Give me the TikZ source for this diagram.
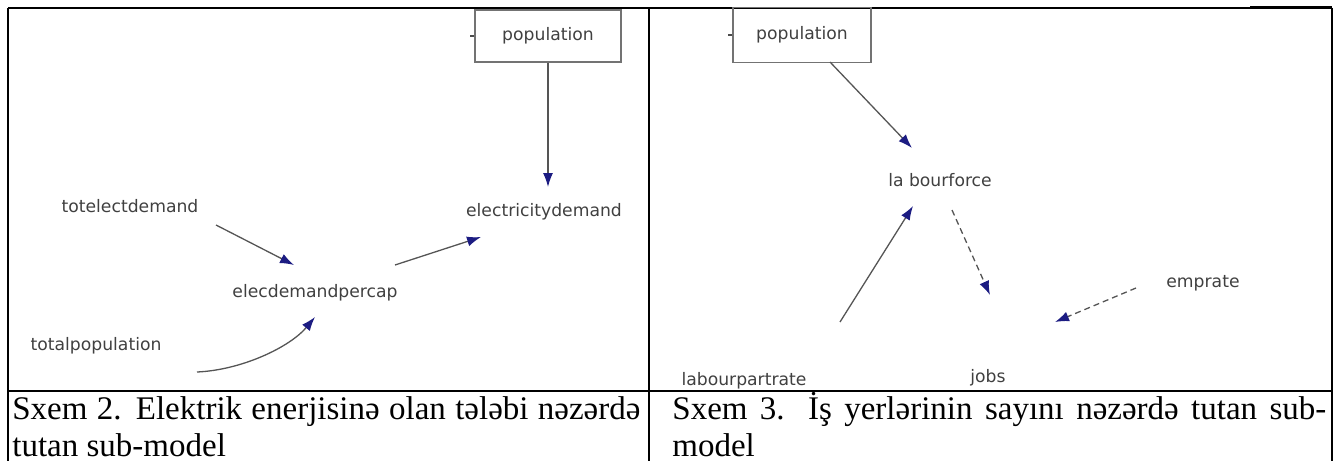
\documentclass[tikz,border=0pt]{standalone}
\usepackage{fontspec}
\setmainfont{Liberation Serif}
\newfontfamily\diagfont{DejaVu Sans}
\usetikzlibrary{arrows.meta, positioning, calc}
\definecolor{tipblue}{RGB}{28,28,130}
\definecolor{linkgray}{RGB}{85,85,85}

\begin{document}
\begin{tikzpicture}[x=0.5pt, y=-0.5pt,
    var/.style={font=\diagfont\fontsize{8.6}{10}\selectfont, text=black!75, inner sep=2pt},
    stock/.style={var, draw=black!55, line width=0.6pt},
    link/.style={draw=linkgray, line width=0.65pt,
                 -{Latex[length=7pt, width=5pt, color=tipblue]}},
    caption/.style={font=\fontsize{16.5}{18.5}\selectfont, align=justify,
                    inner sep=0pt, anchor=north west},
    rule/.style={line width=1pt}]
  \useasboundingbox (0,0) rectangle (1334,461);

  % Table frame
  \draw[rule] (8,7.5) -- (1250,7.5);
  \draw[line width=1.6pt] (1250,7.5) -- (1332,7.5);
  \draw[rule] (8,7.5) -- (8,461);
  \draw[rule] (649,7.5) -- (649,461);
  \draw[rule] (1332,7.5) -- (1332,461);
  \draw[rule] (8,391) -- (1332,391);

  % Sxem 2: electricity demand
  \node[stock, minimum width=73pt, minimum height=26pt] (popL) at (548,36) {population};
  \draw[black!70, line width=0.8pt] (popL.west) -- ++(-4,0);
  \node[var] (elecdem) at (544,212) {electricitydemand};
  \node[var] (totelect) at (130,206) {totelectdemand};
  \node[var] (percap) at (315,293) {elecdemandpercap};
  \node[var] (totpop) at (96,346) {totalpopulation};

  \draw[link] (popL.south) -- ([shift={(4,-25)}]elecdem.center);
  \draw[link] ([shift={(86,19)}]totelect.center) -- ([shift={(-21,-28)}]percap.center);
  \draw[link] ([shift={(80,-28)}]percap.center) -- ([shift={(-63,25)}]elecdem.center);
  \draw[link] ([shift={(101,26)}]totpop.center)
    .. controls +(45,-2) and +(-25,30) .. ([shift={(0,24)}]percap.center);

  % Sxem 3: jobs
  \node[stock, minimum width=69pt, minimum height=27.5pt] (popR) at (802,35) {population};
  \draw[black!70, line width=0.8pt] (popR.west) -- ++(-4,0);
  \node[var] (labf) at (940,180) {la bourforce};
  \node[var] (lpr) at (744,381) {labourpartrate};
  \node[var] (jobs) at (988,378) {jobs};
  \node[var] (emprate) at (1203,283) {emprate};

  \draw[link] ([shift={(28,27)}]popR.center) -- ([shift={(-28,-32)}]labf.center);
  \draw[link] ([shift={(96,-59)}]lpr.center) -- ([shift={(-27,26)}]labf.center);
  \draw[link, densely dashed] ([shift={(12,30)}]labf.center) -- ([shift={(2,-83)}]jobs.center);
  \draw[link, densely dashed] ([shift={(-67,5)}]emprate.center) -- ([shift={(67,-56)}]jobs.center);

  % Captions
  \node[caption, text width=314pt] (capL) at (12,389)
    {\rule{0pt}{15pt}Sxem 2. Elektrik enerjisinə olan tələbi nəzərdə\linebreak tutan sub-model};
  \node[caption, text width=327pt] (capR) at (672,389)
    {\rule{0pt}{15pt}Sxem 3. İş yerlərinin sayını nəzərdə tutan sub-\linebreak model};
\end{tikzpicture}
\end{document}
